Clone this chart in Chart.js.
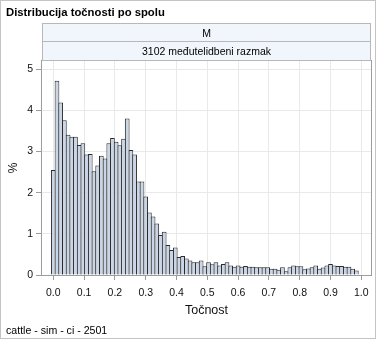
<!DOCTYPE html>
<html>
<head>
<meta charset="utf-8">
<script src="https://cdn.jsdelivr.net/npm/chart.js@4.4.1/dist/chart.umd.min.js"></script>
<style>
  body { margin: 0; background: #fff; }
  #graph { position: relative; width: 378px; height: 340px; font-family: "Liberation Sans", Arial, sans-serif; color: #000; }
  #graph canvas { position: absolute; left: 0; top: 0; }
  .outline { position: absolute; left: 0; top: 0; width: 374px; height: 337px; border: 1px solid #c4c4c4; }
  .title { position: absolute; left: 6px; top: 6px; font-size: 11.3px; font-weight: bold; white-space: nowrap; }
  .cell { position: absolute; left: 42px; width: 327px; background: #f1f5fc; border: 1px solid #b8b8b8;
          font-size: 10.5px; text-align: center; white-space: nowrap; }
  .foot { position: absolute; left: 6px; top: 324px; font-size: 10.6px; white-space: nowrap; }
</style>
</head>
<body>
<div id="graph">
  <canvas id="hist" width="378" height="340"></canvas>
  <div class="outline"></div>
  <div class="title">Distribucija točnosti po spolu</div>
  <div class="cell" style="top:23px;height:17px;line-height:18px;">M</div>
  <div class="cell" style="top:41px;height:18px;line-height:19px;">3102 međutelidbeni razmak</div>
  <div class="foot">cattle - sim - ci - 2501</div>
</div>
<script>
// histogram bins: width and percentages per bin (bin 0 centred on 0.0)
var binWidth = 0.012;
var percent = [
  2.55, 4.72, 4.19, 3.76, 3.41, 3.36, 3.36, 3.16, 3.20, 2.93,
  2.94, 2.52, 2.66, 2.90, 2.83, 3.20, 3.33, 3.24, 3.15, 3.31,
  3.80, 3.04, 2.93, 2.27, 2.27, 1.91, 1.52, 1.42, 1.25, 0.97,
  1.05, 0.73, 0.61, 0.67, 0.44, 0.46, 0.40, 0.35, 0.31, 0.31,
  0.35, 0.21, 0.31, 0.26, 0.31, 0.23, 0.27, 0.31, 0.23, 0.20,
  0.23, 0.20, 0.22, 0.20, 0.20, 0.19, 0.19, 0.19, 0.19, 0.15,
  0.15, 0.13, 0.19, 0.09, 0.19, 0.23, 0.21, 0.21, 0.14, 0.16,
  0.19, 0.23, 0.15, 0.18, 0.23, 0.27, 0.23, 0.22, 0.22, 0.20,
  0.20, 0.15, 0.11
];
var binMid = percent.map(function (p, i) { return +(i * binWidth).toFixed(3); });

var xTicks = [0, 0.1, 0.2, 0.3, 0.4, 0.5, 0.6, 0.7, 0.8, 0.9, 1.0];
var yTicks = [0, 1, 2, 3, 4, 5];

// box around the plot area
var frame = {
  id: 'frame',
  afterDatasetsDraw: function (chart) {
    var a = chart.chartArea, c = chart.ctx;
    c.save();
    c.strokeStyle = '#9c9c9c';
    c.lineWidth = 1;
    c.strokeRect(Math.round(a.left) - 0.5, Math.round(a.top) - 0.5,
                 Math.round(a.right - a.left) + 1, Math.round(a.bottom - a.top) + 1);
    c.restore();
  }
};

Chart.defaults.font.family = '"Liberation Sans", Arial, sans-serif';
Chart.defaults.color = '#111';

var ctx = document.getElementById('hist').getContext('2d');
var histChart = new Chart(ctx, {
  type: 'bar',
  data: {
    datasets: [{
      data: binMid.map(function (x, i) { return { x: x, y: percent[i] }; }),
      backgroundColor: '#cad5e5',
      borderColor: '#2b2b2b',
      borderWidth: 1,
      borderSkipped: 'start',
      barPercentage: 1.27,
      categoryPercentage: 1
    }]
  },
  options: {
    responsive: false,
    animation: false,
    layout: { padding: { left: 0, top: 61, right: 7, bottom: 22 } },
    plugins: { legend: { display: false }, tooltip: { enabled: false } },
    scales: {
      x: {
        type: 'linear',
        min: -0.0367,
        max: 1.0315,
        offset: false,
        grid: { offset: false, color: '#e9e9e9', tickColor: '#9c9c9c', tickLength: 5 },
        border: { display: false },
        ticks: {
          padding: 7,
          font: { size: 10.5 },
          callback: function (v) { return v.toFixed(1); }
        },
        title: { display: true, text: 'Točnost', font: { size: 12.5 }, padding: { top: 0, bottom: 0 } },
        afterBuildTicks: function (s) { s.ticks = xTicks.map(function (v) { return { value: v }; }); },
        afterFit: function (s) { s.height = 43; }
      },
      y: {
        min: 0,
        max: 5.2,
        grid: { color: '#e9e9e9', tickColor: '#9c9c9c', tickLength: 6 },
        border: { display: false },
        ticks: { padding: 3, font: { size: 10.5 } },
        title: { display: true, text: '%', font: { size: 12 }, padding: { top: 6, bottom: 0 } },
        afterBuildTicks: function (s) { s.ticks = yTicks.map(function (v) { return { value: v }; }); },
        afterFit: function (s) { s.width = 42; }
      }
    }
  },
  plugins: [frame]
});
</script>
</body>
</html>
